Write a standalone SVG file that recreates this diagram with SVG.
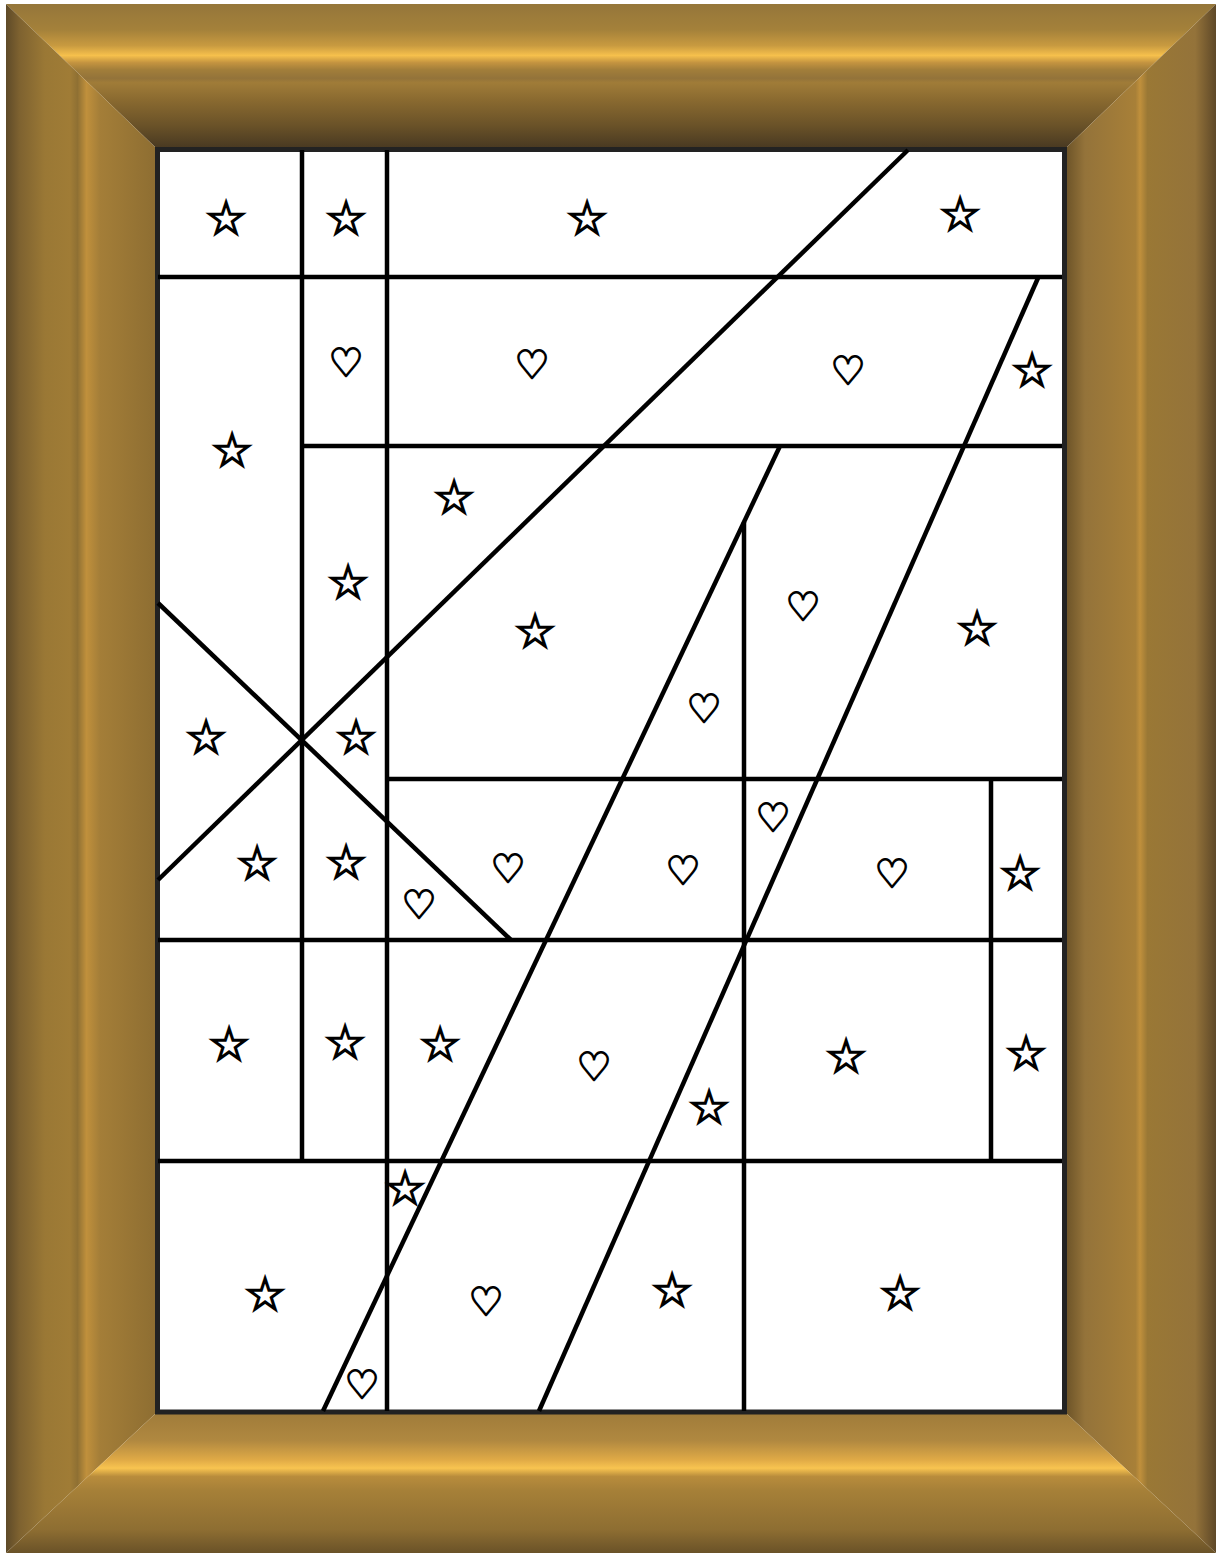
<svg xmlns="http://www.w3.org/2000/svg" width="1216" height="1553" viewBox="0 0 1216 1553">
<defs>
<linearGradient id="gTop" gradientUnits="userSpaceOnUse" x1="0" y1="4" x2="0" y2="147">
<stop offset="0" stop-color="#95763a"/>
<stop offset="0.18" stop-color="#a4813a"/>
<stop offset="0.29" stop-color="#c89a40"/>
<stop offset="0.36" stop-color="#f6c04c"/>
<stop offset="0.41" stop-color="#c49440"/>
<stop offset="0.46" stop-color="#a27e3a"/>
<stop offset="0.52" stop-color="#93733a"/>
<stop offset="0.55" stop-color="#a07c38"/>
<stop offset="0.67" stop-color="#8a6a30"/>
<stop offset="0.85" stop-color="#6a5228"/>
<stop offset="1" stop-color="#4a3a22"/>
</linearGradient>
<linearGradient id="gLeft" gradientUnits="userSpaceOnUse" x1="6" y1="0" x2="155" y2="0">
<stop offset="0" stop-color="#5e4a28"/>
<stop offset="0.09" stop-color="#7e6230"/>
<stop offset="0.26" stop-color="#9a7835"/>
<stop offset="0.43" stop-color="#a07c36"/>
<stop offset="0.48" stop-color="#8f7033"/>
<stop offset="0.54" stop-color="#c0903c"/>
<stop offset="0.63" stop-color="#a47e38"/>
<stop offset="1" stop-color="#8e6e32"/>
</linearGradient>
<linearGradient id="gRight" gradientUnits="userSpaceOnUse" x1="1067" y1="0" x2="1216" y2="0">
<stop offset="0" stop-color="#6e5529"/>
<stop offset="0.12" stop-color="#94733a"/>
<stop offset="0.46" stop-color="#a88038"/>
<stop offset="0.49" stop-color="#c0903c"/>
<stop offset="0.54" stop-color="#9a7835"/>
<stop offset="0.86" stop-color="#94733a"/>
<stop offset="1" stop-color="#5e4828"/>
</linearGradient>
<linearGradient id="gBottom" gradientUnits="userSpaceOnUse" x1="0" y1="1414" x2="0" y2="1553">
<stop offset="0" stop-color="#a07c3a"/>
<stop offset="0.19" stop-color="#b08840"/>
<stop offset="0.33" stop-color="#e0aa46"/>
<stop offset="0.39" stop-color="#f8c450"/>
<stop offset="0.45" stop-color="#b88c3c"/>
<stop offset="0.55" stop-color="#a68038"/>
<stop offset="0.83" stop-color="#8e6e32"/>
<stop offset="1" stop-color="#6a5228"/>
</linearGradient>
</defs>
<style>
.ln{stroke:#000;stroke-width:4.5;fill:none}
.s{font-family:"DejaVu Sans",sans-serif;font-size:42px;fill:#fff;stroke:#000;stroke-width:3;text-anchor:middle;dominant-baseline:central}
.h{font-family:"DejaVu Sans",sans-serif;font-size:38px;fill:#fff;stroke:#000;stroke-width:2.4;text-anchor:middle;dominant-baseline:central}
</style>
<g id="frame">
<polygon points="6,4 1216,4 1067,147 155,147" fill="url(#gTop)"/>
<polygon points="6,4 155,147 155,1414 6,1553" fill="url(#gLeft)"/>
<polygon points="1216,4 1216,1553 1067,1414 1067,147" fill="url(#gRight)"/>
<polygon points="155,1414 1067,1414 1216,1553 6,1553" fill="url(#gBottom)"/>
<rect x="157.5" y="149.5" width="907" height="1262.5" fill="#fff" stroke="#222" stroke-width="5"/>
</g>
<g id="lines">
<line class="ln" x1="158" y1="277" x2="1062" y2="277"/>
<line class="ln" x1="302" y1="446" x2="1062" y2="446"/>
<line class="ln" x1="387" y1="779" x2="1062" y2="779"/>
<line class="ln" x1="158" y1="940" x2="1062" y2="940"/>
<line class="ln" x1="158" y1="1161" x2="1062" y2="1161"/>
<line class="ln" x1="302" y1="150" x2="302" y2="1161"/>
<line class="ln" x1="387" y1="150" x2="387" y2="1411"/>
<line class="ln" x1="744" y1="522" x2="744" y2="1411"/>
<line class="ln" x1="991" y1="779" x2="991" y2="1161"/>
<line class="ln" x1="908" y1="150" x2="158" y2="880"/>
<line class="ln" x1="158" y1="603" x2="511" y2="940"/>
<line class="ln" x1="780" y1="446" x2="323" y2="1411"/>
<line class="ln" x1="1038" y1="278" x2="539" y2="1411"/>
</g>
<g id="stars">
<text class="s" x="226" y="218">★</text>
<text class="s" x="346" y="218">★</text>
<text class="s" x="587" y="218">★</text>
<text class="s" x="960" y="214">★</text>
<text class="s" x="1032" y="370">★</text>
<text class="s" x="232" y="450">★</text>
<text class="s" x="454" y="497">★</text>
<text class="s" x="348" y="582">★</text>
<text class="s" x="535" y="631">★</text>
<text class="s" x="977" y="628">★</text>
<text class="s" x="206" y="737">★</text>
<text class="s" x="356" y="737">★</text>
<text class="s" x="257" y="863">★</text>
<text class="s" x="346" y="862">★</text>
<text class="s" x="1020" y="873">★</text>
<text class="s" x="229" y="1044">★</text>
<text class="s" x="345" y="1042">★</text>
<text class="s" x="440" y="1044">★</text>
<text class="s" x="846" y="1056">★</text>
<text class="s" x="1026" y="1053">★</text>
<text class="s" x="709" y="1107">★</text>
<text class="s" x="405" y="1188">★</text>
<text class="s" x="265" y="1294">★</text>
<text class="s" x="672" y="1290">★</text>
<text class="s" x="900" y="1293">★</text>
</g>
<g id="hearts">
<text class="h" x="346" y="363">♥</text>
<text class="h" x="532" y="365">♥</text>
<text class="h" x="848" y="371">♥</text>
<text class="h" x="803" y="607">♥</text>
<text class="h" x="704" y="709">♥</text>
<text class="h" x="773" y="818">♥</text>
<text class="h" x="508" y="869">♥</text>
<text class="h" x="683" y="871">♥</text>
<text class="h" x="892" y="874">♥</text>
<text class="h" x="419" y="905">♥</text>
<text class="h" x="594" y="1067">♥</text>
<text class="h" x="486" y="1302">♥</text>
<text class="h" x="362" y="1385">♥</text>
</g>
</svg>
